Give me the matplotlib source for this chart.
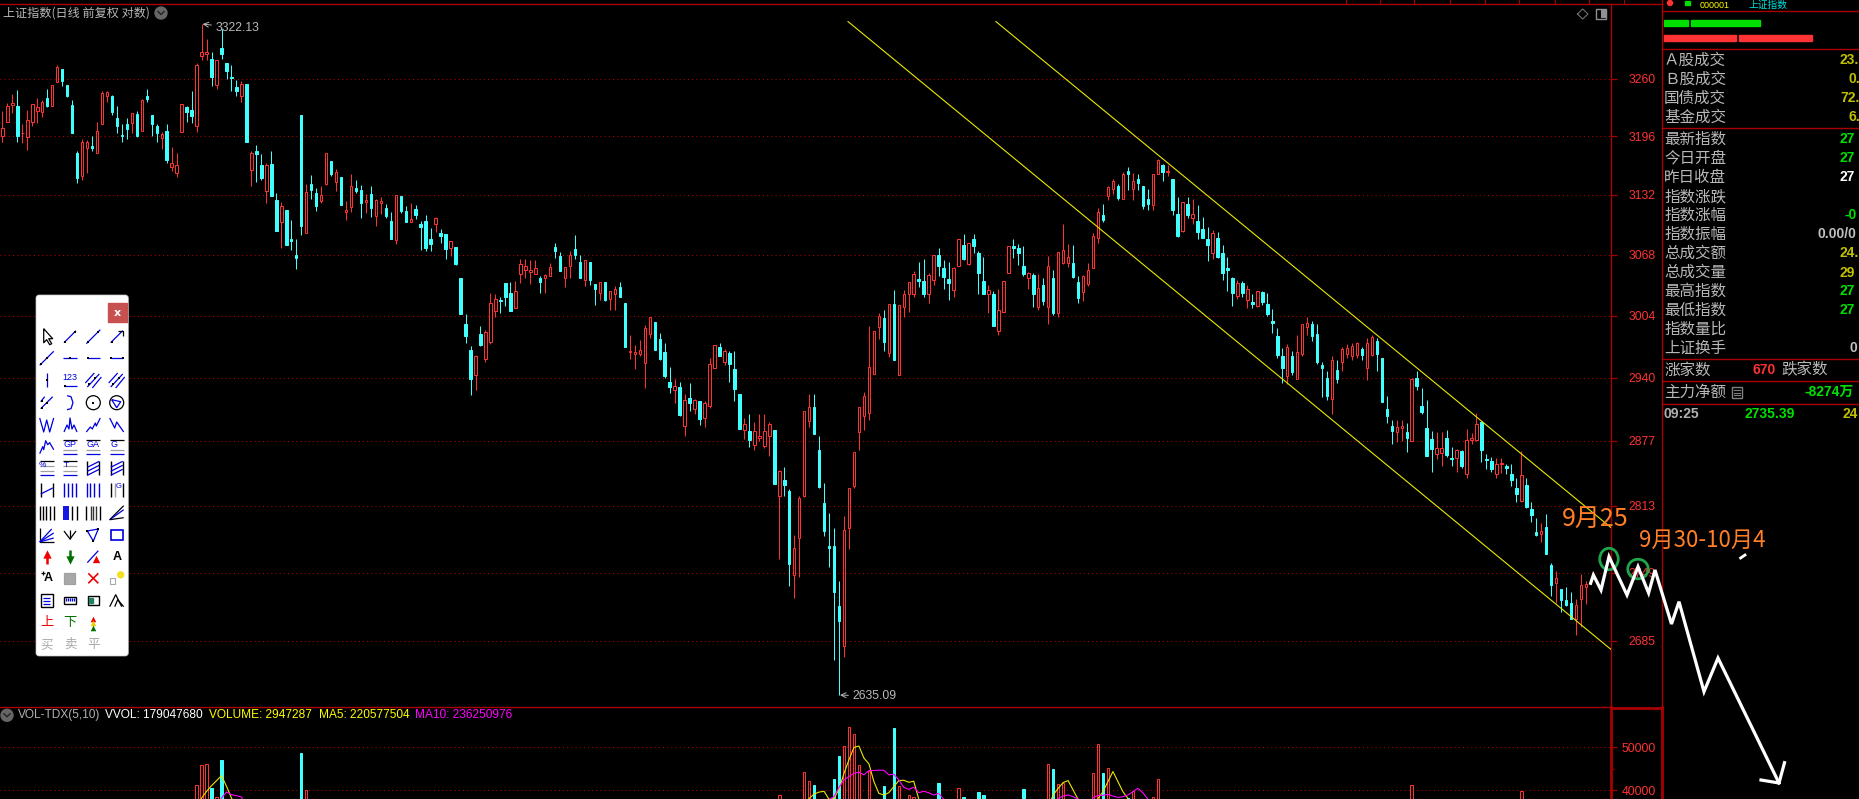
import numpy as np
import matplotlib
matplotlib.use("Agg")
import matplotlib.pyplot as plt
from matplotlib.patches import Ellipse, FancyBboxPatch, Rectangle, Circle

plt.rcParams['font.family'] = ['Noto Sans CJK SC', 'DejaVu Sans']

# colour flags, R rising / C falling
flags = ("RRRCRRRRRC" "RRCCCCRRCR" "RRCCCCRCRC" "CCRCRRRCCR" "RRCRCCCCRC" "RCCRCCRCCC" "CRCCRRCRCR" "RCCRCRRCCR"
         "CCRCCCCRCC" "RCCCCRCRRR" "CCCRRRRRCR" "RCCRRCCRCC" "RCRRCCRRRR" "RCCCCRCRCR" "CRRRCRCCCR" "CRRRRCRCCR"
         "RRRCCCCCCR" "RRRRRRRCRC" "RRRRCCRRCC" "CRRCRCCCRC" "RRRCCCRCRC" "RCRRRCCRRR" "RCRRCRCRCC" "CRRCRCCRCR"
         "CCCRCCCCRC" "RCRCCCCCRC" "RRRCCCCRCR" "RRRCRRCCCC" "RRCRCCCCRR" "CCRCRRRCCC" "RRCCCRCCCR" "CCRCCCRRR")

highs = [3224,3233,3243,3247,3209,3225,3232,3238,3236,3248,
         3253,3275,3271,3253,3236,3180,3193,3192,3196,3212,
         3246,3246,3242,3230,3210,3216,3222,3224,3237,3248,
         3219,3210,3201,3209,3184,3177,3232,3230,3246,3278,
         3322.13,3305,3290,3281,3316,3278,3276,3259,3257,3254,
         3180,3186,3176,3166,3180,3134,3124,3116,3105,3085,
         3219,3144,3153,3139,3142,3177,3169,3160,3151,3125,
         3154,3148,3143,3133,3142,3127,3130,3122,3113,3132,
         3131,3120,3123,3121,3104,3110,3096,3108,3095,3090,
         3082,3076,3043,3006,2973,2963,2993,2989,3028,3027,
         3023,3038,3039,3040,3063,3063,3062,3062,3045,3047,
         3059,3080,3071,3055,3072,3089,3067,3062,3060,3037,
         3039,3039,3030,3035,3039,3017,2984,2974,2979,2994,
         3003,2997,2986,2976,2951,2939,2936,2924,2935,2919,
         2917,2917,2960,2974,2976,2970,2967,2968,2924,2900,
         2904,2896,2904,2904,2896,2888,2848,2851,2829,2785,
         2823,2907,2924,2924,2882,2835,2806,2792,2741,2803,
         2830,2866,2911,2926,2993,2988,3007,3010,3016,3031,
         3015,3031,3039,3051,3060,3063,3049,3068,3075,3062,
         3060,3055,3084,3090,3080,3090,3072,3065,3036,3030,
         3032,3040,3077,3085,3079,3077,3050,3049,3047,3043,
         3066,3052,3071,3101,3079,3078,3045,3046,3059,3091,
         3118,3122,3141,3149,3144,3157,3162,3156,3155,3142,
         3138,3154,3171,3165,3164,3149,3130,3124,3130,3127,
         3121,3108,3097,3094,3092,3078,3065,3044,3041,3040,
         3036,3026,3030,3030,3028,3011,2991,2971,2975,2967,
         2984,2995,3003,2998,2995,2956,2947,2962,2958,2972,
         2975,2976,2977,2972,2981,2984,2981,2960,2922,2898,
         2898,2898,2895,2940,2947,2930,2918,2887,2886,2886,
         2888,2871,2869,2868,2889,2885,2905,2897,2864,2861,
         2860,2860,2854,2854,2840,2867,2840,2817,2801,2796,
         2805,2758,2750,2733,2735,2731,2724,2748,2741]

tops = [3205,3230,3233,3229,3200,3214,3232,3228,3234,3238,
        3253,3273,3271,3253,3231,3177,3190,3190,3185,3202,
        3244,3245,3241,3216,3197,3209,3222,3221,3236,3241,
        3219,3207,3198,3202,3167,3164,3232,3228,3225,3275,
        3290,3290,3282,3281,3295,3278,3262,3251,3254,3254,
        3178,3180,3164,3164,3165,3126,3120,3116,3085,3068,
        3219,3135,3144,3134,3132,3177,3169,3157,3151,3116,
        3142,3139,3137,3126,3133,3126,3125,3118,3104,3132,
        3131,3114,3106,3117,3100,3104,3085,3107,3091,3090,
        3082,3076,3043,2995,2969,2962,2985,2987,3017,3021,
        3020,3038,3028,3030,3058,3056,3052,3054,3043,3046,
        3055,3076,3066,3055,3068,3074,3060,3062,3060,3037,
        3039,3039,3030,3032,3034,3017,2968,2966,2969,2991,
        3003,2997,2980,2966,2936,2932,2931,2918,2920,2918,
        2917,2915,2954,2974,2972,2967,2965,2949,2924,2894,
        2887,2887,2882,2887,2894,2888,2847,2838,2827,2772,
        2821,2907,2911,2911,2868,2816,2774,2774,2717,2790,
        2830,2866,2911,2922,2951,2988,3004,3002,3016,3016,
        3015,3027,3039,3047,3042,3040,3046,3068,3068,3054,
        3042,3054,3084,3078,3080,3084,3070,3040,3031,3026,
        3010,3040,3077,3077,3075,3056,3048,3046,3033,3036,
        3056,3043,3071,3073,3065,3059,3039,3045,3052,3088,
        3113,3110,3140,3147,3141,3154,3158,3147,3149,3141,
        3127,3154,3170,3164,3158,3149,3111,3124,3122,3111,
        3104,3095,3085,3091,3086,3070,3054,3043,3038,3038,
        3032,3018,3030,3029,3016,2998,2983,2962,2972,2962,
        2966,2995,2996,2995,2985,2953,2940,2958,2948,2970,
        2971,2973,2976,2970,2976,2982,2978,2960,2909,2892,
        2891,2892,2886,2939,2940,2912,2890,2879,2870,2870,
        2880,2860,2868,2867,2878,2880,2894,2896,2859,2857,
        2854,2855,2852,2844,2830,2843,2833,2810,2788,2789,
        2793,2756,2744,2733,2723,2720,2718,2737,2738]

bottoms = [3196,3212,3231,3196,3200,3195,3212,3224,3223,3230,
           3230,3256,3257,3241,3199,3150,3152,3183,3183,3178,
           3209,3241,3223,3207,3196,3204,3211,3196,3202,3237,
           3210,3199,3194,3170,3162,3156,3201,3223,3218,3207,
           3286,3288,3262,3253,3288,3269,3261,3246,3241,3190,
           3159,3176,3150,3136,3131,3093,3103,3078,3082,3064,
           3098,3091,3137,3120,3125,3144,3155,3146,3121,3113,
           3119,3136,3123,3124,3118,3109,3123,3109,3084,3083,
           3115,3103,3103,3110,3097,3075,3079,3101,3088,3074,
           3075,3058,3006,2983,2939,2943,2974,2959,2977,3009,
           3019,3023,3009,3012,3047,3052,3050,3047,3039,3043,
           3045,3072,3051,3043,3056,3067,3043,3041,3041,3032,
           3028,3020,3021,3027,3023,2972,2966,2964,2964,2955,
           2985,2969,2959,2942,2931,2928,2903,2892,2915,2909,
           2899,2900,2912,2950,2962,2956,2954,2929,2889,2888,
           2878,2873,2880,2872,2882,2834,2823,2833,2757,2747,
           2782,2823,2897,2884,2831,2789,2772,2731,2703,2680,
           2792,2832,2886,2902,2905,2944,2992,2977,2965,2958,
           2943,3013,3026,3027,3040,3027,3026,3041,3056,3044,
           3038,3031,3056,3063,3058,3077,3048,3026,3026,2993,
           2988,3008,3049,3075,3070,3047,3043,3027,3013,3019,
           3013,3007,3007,3059,3059,3044,3022,3029,3037,3054,
           3086,3105,3131,3138,3128,3127,3154,3138,3145,3120,
           3122,3121,3155,3157,3157,3116,3088,3093,3110,3107,
           3092,3086,3078,3070,3065,3048,3052,3028,3024,3028,
           3020,3016,3014,3018,3006,2996,2963,2950,2942,2946,
           2939,2964,2992,2983,2956,2950,2922,2919,2939,2956,
           2964,2962,2963,2963,2950,2963,2964,2916,2902,2887,
           2886,2890,2880,2877,2932,2906,2862,2869,2864,2865,
           2863,2859,2860,2852,2844,2878,2878,2868,2858,2849,
           2844,2854,2850,2838,2825,2818,2812,2804,2785,2786,
           2767,2737,2739,2723,2718,2705,2705,2724,2735]

lows = [3190,3212,3222,3190,3189,3181,3207,3211,3217,3228,
        3230,3256,3252,3239,3199,3145,3148,3156,3180,3178,
        3209,3234,3219,3199,3190,3193,3200,3195,3202,3234,
        3196,3190,3182,3166,3158,3151,3201,3212,3211,3201,
        3281,3281,3252,3248,3282,3260,3246,3241,3234,3190,
        3141,3146,3148,3123,3131,3093,3075,3078,3073,3053,
        3089,3091,3127,3114,3123,3143,3152,3136,3121,3105,
        3113,3134,3107,3112,3108,3098,3111,3107,3084,3079,
        3112,3103,3103,3106,3073,3072,3072,3092,3080,3063,
        3066,3057,3006,2976,2923,2928,2973,2956,2975,3003,
        3007,3014,3009,3012,3038,3043,3037,3047,3028,3028,
        3045,3064,3051,3034,3043,3063,3043,3035,3036,3015,
        3020,3019,3010,3010,3023,2972,2959,2949,2962,2930,
        2981,2969,2958,2940,2925,2915,2902,2882,2907,2904,
        2893,2891,2910,2950,2962,2953,2936,2917,2889,2879,
        2871,2868,2877,2870,2862,2834,2762,2823,2736,2725,
        2745,2822,2891,2884,2830,2784,2754,2667,2635.09,2670,
        2771,2830,2868,2888,2898,2944,2980,2967,2961,2958,
        2943,3003,3008,3023,3034,3023,3017,3036,3045,3032,
        3020,3023,3056,3062,3057,3070,3027,3026,3007,2993,
        2984,3008,3049,3064,3057,3045,3032,3013,3010,3015,
        2995,3005,3003,3058,3055,3043,3017,3019,3035,3054,
        3080,3103,3126,3133,3126,3127,3137,3126,3137,3117,
        3116,3116,3155,3147,3152,3110,3087,3092,3107,3101,
        3085,3086,3061,3063,3064,3041,3030,3014,3021,3023,
        3012,3012,3013,3015,3004,2986,2960,2935,2934,2943,
        2939,2962,2984,2978,2954,2921,2918,2904,2935,2947,
        2960,2958,2960,2958,2938,2962,2947,2916,2895,2874,
        2876,2877,2866,2877,2928,2904,2862,2846,2859,2852,
        2861,2852,2846,2850,2840,2874,2877,2856,2849,2846,
        2840,2845,2844,2832,2817,2817,2811,2797,2784,2778,
        2767,2727,2720,2712,2717,2705,2690,2698,2719]

price_ticks = [3260, 3196, 3132, 3068, 3004, 2940, 2877, 2813, 2749, 2685]
vol_ticks = [50000, 40000]

# only the volume bars tall enough to show above the crop
vol_idx = [39,40,41,42,43,44,60,61,156,161,162,163,167,168,169,170,171,172,174,177,179,180,182,183,188,
           192,193,196,197,205,210,211,212,213,219,220,221,222,226,227,231,232,283,305]
vol_val = [41300,45850,46150,40540,38460,47080,48600,40150,39000,44190,42100,41240,42640,47980,50300,54650,
           53020,45800,44500,41000,54500,41000,38900,38400,41630,40620,38450,39540,38840,40240,46050,44900,
           41500,41800,43950,50700,43950,45100,38300,39850,38400,42560,41160,39770]

ma5_idx = [39,40,41,42,43,44,45,46,47,
           161,162,163,164,165,166,167,168,169,170,171,172,173,174,175,176,177,178,179,180,181,182,183,184,185,
           210,211,212,213,214,215,216,217,
           219,220,221,222,223,224,225,226,227]
ma5_val = [36000,38230,39770,41080,42230,43390,40930,38230,36000,
           36000,38140,39150,39600,39770,37900,38140,40230,43950,47050,49920,50230,47440,46120,42020,39300,38920,
           39460,40850,42250,42330,41860,42100,37990,36000,
           36000,38920,40470,41790,42250,40080,37900,36000,
           36000,38140,39690,42020,44340,42020,39690,38140,36000]
ma10_idx = [43,44,45,46,47,48,49,
            165,166,167,168,169,170,171,172,173,174,175,176,177,178,179,180,181,182,183,184,185,186,187,188,189,190,
            211,212,213,214,215,216,217,
            218,219,220,221,222,223,224,225,226,227,228,229,230,231]
ma10_val = [36000,38235,39620,39000,38770,38470,36000,
            36000,37900,38530,40700,42400,43180,43950,44190,43570,44570,44570,44650,44650,43570,43720,42400,40700,
            40230,40700,39460,39770,39460,38920,39300,37990,36000,
            36000,38140,38680,38920,38530,37990,36000,
            36000,38300,38840,38840,39070,38680,38370,38530,38920,39690,40470,39460,37990,36000]

# channel lines, (candle index, price)
lower_channel = ([169.8, 323.0], [3325, 2677])
upper_channel = ([199.5, 323.0], [3325, 2792])

# hand drawn forecast line, screen pixels
white_x = [1590.6,1593.4,1601,1609,1627,1638,1648.6,1655,1671.5,1679,1704,1718,1779]
white_y = [583.3,575,590,556.7,595,566.7,593,570,624,601.7,691.7,658,783]
arrow_x = [1761,1779,1784.5]
arrow_y = [780,783,762.7]

panel_labels = ["Ａ股成交","Ｂ股成交","国债成交","基金成交","最新指数","今日开盘","昨日收盘","指数涨跌","指数涨幅",
                "指数振幅","总成交额","总成交量","最高指数","最低指数","指数量比","上证换手"]
panel_y = [60.3,79,98.3,117.3,139.3,158.3,177.3,196.7,215.3,234.3,253.3,272.7,291,310,329.3,348.3]
panel_vals = ["23.","0.","72.","6.","27","27","27","","-0","0.00/0","24.","29","27","27","","0"]
panel_val_x = [1840,1849,1840,1849,1840,1840,1840,1840,1845,1818,1840,1840,1840,1840,1840,1850]
panel_val_col = ['#c0c000','#c0c000','#c0c000','#c0c000','#00e000','#00e000','#ffffff','#c0c0c0','#00e000',
                 '#c0c0c0','#c0c000','#c0c000','#00e000','#00e000','#c0c0c0','#c0c0c0']

DARK = '#a80000'
RED = '#ff3232'
CYAN = '#40ffff'
GRID = dict(color='#b00000', lw=0.75, ls=(0, (1, 3)))

W, H = 1859, 799
STEP = 4.98
fig = plt.figure(figsize=(18.59, 7.99), dpi=100, facecolor='black')

# price panel
ax = fig.add_axes([0, (H - 707.3) / H, 1611 / W, (707.3 - 3.5) / H], facecolor='black')
# volume panel
vx = fig.add_axes([0, 0, 1611 / W, (H - 707.3) / H], facecolor='black')
ov = fig.add_axes([0, 0, 1, 1], zorder=10)
ov.set_xlim(0, W)
ov.set_ylim(H, 0)
ov.axis('off')

x = np.arange(len(highs))
up = np.array([f == 'R' for f in flags])
highs = np.array(highs, dtype=float)
lows = np.array(lows, dtype=float)
tops = np.array(tops, dtype=float)
bottoms = np.array(bottoms, dtype=float)

ax.set_yscale('log')
ax.set_ylim(2624, 3345.8)
ax.set_xlim(-2.4 / STEP, (1611 - 2.4) / STEP)
for y in price_ticks:
    ax.axhline(y, zorder=1, **GRID)
ax.vlines(x[up], lows[up], highs[up], color=RED, lw=0.72, zorder=2)
ax.vlines(x[~up], lows[~up], highs[~up], color=CYAN, lw=0.72, zorder=2)
ax.bar(x[up], tops[up] - bottoms[up], bottom=bottoms[up], width=0.5, facecolor='black', edgecolor=RED, lw=0.72, zorder=3)
ax.bar(x[~up], tops[~up] - bottoms[~up], bottom=bottoms[~up], width=0.5, facecolor=CYAN, edgecolor=CYAN, lw=0.72, zorder=3)
ax.plot(*lower_channel, color='#e8e800', lw=0.8, zorder=4)
ax.plot(*upper_channel, color='#e8e800', lw=0.8, zorder=4)

ax.minorticks_off()
ax.set_yticks(price_ticks, [str(t) for t in price_ticks])
ax.tick_params(axis='y', which='minor', length=0, labelright=False, labelleft=False)
ax.yaxis.tick_right()
ax.tick_params(axis='y', colors=DARK, length=4.3, width=0.9, pad=8.5, labelcolor=RED, labelsize=8.8)
for lb in ax.get_yticklabels():
    lb.set_family('Liberation Sans')
ax.set_xticks([])
for s in ['top', 'left', 'bottom']:
    ax.spines[s].set_visible(False)
ax.spines['right'].set_color(DARK)
ax.spines['right'].set_linewidth(1.0)

# high and low notes
ax.annotate("3322.13", xy=(40.2, 3322.13), xytext=(215.5, 771), textcoords='figure pixels', color='#b8b8b8',
            fontsize=8.8, family='Liberation Sans', va='center', arrowprops=dict(arrowstyle='->', color='#b8b8b8', lw=0.7, shrinkA=1, shrinkB=0))
ax.annotate("2635.09", xy=(168.2, 2635.09), xytext=(852.5, 103), textcoords='figure pixels', color='#b8b8b8',
            fontsize=8.8, family='Liberation Sans', va='center', arrowprops=dict(arrowstyle='->', color='#b8b8b8', lw=0.7, shrinkA=1, shrinkB=0))

# volume
vol_idx = np.array(vol_idx)
vol_val = np.array(vol_val)
vup = up[vol_idx]
vx.set_xlim(ax.get_xlim())
vx.set_ylim(38000, 59170)
for y in vol_ticks:
    vx.axhline(y, zorder=1, **GRID)
vx.bar(vol_idx[vup], vol_val[vup], width=0.5, facecolor='black', edgecolor=RED, lw=0.72, zorder=3)
vx.bar(vol_idx[~vup], vol_val[~vup], width=0.5, facecolor=CYAN, edgecolor=CYAN, lw=0.72, zorder=3)
vx.plot(ma5_idx, ma5_val, color='#e8e800', lw=0.8, zorder=4)
vx.plot(ma10_idx, ma10_val, color='#ff00ff', lw=0.8, zorder=4)
vx.set_yticks(vol_ticks, [str(t) for t in vol_ticks])
vx.set_yticks([45000], minor=True)
vx.yaxis.tick_right()
vx.tick_params(axis='y', colors=DARK, length=4.3, width=0.9, pad=3.6, labelcolor=RED, labelsize=8.8)
vx.tick_params(axis='y', which='minor', colors=DARK, length=2.5, width=0.9)
for lb in vx.get_yticklabels():
    lb.set_family('Liberation Sans')
vx.set_xticks([])
for s in ['top', 'left', 'bottom']:
    vx.spines[s].set_visible(False)
vx.spines['right'].set_color(DARK)
vx.spines['right'].set_linewidth(2.0)

# frame lines
ov.plot([0, 1662], [3.5, 3.5], color=DARK, lw=1.0)
ov.plot([0, 1611], [707.3, 707.3], color=DARK, lw=1.0)
ov.plot([1611, 1662], [708, 708], color=DARK, lw=2.0)
ov.plot([1662, 1662], [0, 707], color=DARK, lw=1.0)
ov.plot([1662, 1662], [707, H], color=DARK, lw=2.0)
for yy in [11.3, 49.3, 128, 359.3, 381, 404.3]:
    ov.plot([1662, W], [yy, yy], color=DARK, lw=1.0)
for xx in [1345.8, 1379.8, 1414.5, 1449.6, 1484.8, 1519.5, 1554.6, 1589.4, 1624]:
    ov.plot([xx, xx], [0, 3.5], color=DARK, lw=0.8)

# titles
ov.text(3, 13, "上证指数(日线 前复权 对数)", color='#b8b8b8', fontsize=8.7, va='center')
for cx, cy in [(161, 13), (7, 715.3)]:
    ov.add_patch(Circle((cx, cy), 6, color='#666666'))
    ov.plot([cx - 3, cx, cx + 3], [cy - 1.5, cy + 1.5, cy - 1.5], color='#222222', lw=1)
LEG = dict(fontsize=8.6, family='Liberation Sans', va='center')
ov.text(18, 715.3, "VOL-TDX(5,10)", color='#b0b0b0', **LEG)
ov.text(105, 715.3, "VVOL: 179047680", color='#ffffff', **LEG)
ov.text(209, 715.3, "VOLUME: 2947287", color='#ffff00', **LEG)
ov.text(319, 715.3, "MA5: 220577504", color='#ffff00', **LEG)
ov.text(415.5, 715.3, "MA10: 236250976", color='#ff00ff', **LEG)

# chart corner icons
ov.plot([1577.5, 1582.7, 1588, 1582.7, 1577.5], [14, 9, 14, 19, 14], color='#707070', lw=0.8)
ov.add_patch(Rectangle((1596, 8.5), 10, 10, facecolor='black', edgecolor='#909090', lw=1))
ov.add_patch(Rectangle((1601, 9), 5, 9, facecolor='#909090', edgecolor='none'))

# side panel
ov.add_patch(Circle((1670, 3), 2.5, color='#ff3232'))
ov.add_patch(Rectangle((1685, 1), 5, 4, color='#00e000'))
ov.text(1700, 5.5, "000001", color='#ffff00', fontsize=6.5, family='Liberation Sans', va='center')
ov.text(1749, 5, "上证指数", color='#00e0e0', fontsize=7, va='center')
ov.add_patch(Rectangle((1664, 20), 24.3, 6, color='#00e000'))
ov.add_patch(Rectangle((1691, 20), 69.3, 6, color='#00e000'))
ov.add_patch(Rectangle((1664, 35), 72.3, 6, color='#ff3333'))
ov.add_patch(Rectangle((1739.3, 35), 73, 6, color='#ff3333'))
NUM = dict(fontsize=10, family=['Liberation Sans', 'Noto Sans CJK SC'], weight='bold', va='center')
for lab, yy, val, vxp, col in zip(panel_labels, panel_y, panel_vals, panel_val_x, panel_val_col):
    ov.text(1664, yy, lab, color='#b8b8b8', fontsize=11.2, va='center')
    ov.text(vxp, yy, val, color=col, **NUM)
ov.text(1664, 370, "涨家数", color='#b8b8b8', fontsize=11.2, va='center')
ov.text(1753, 370, "670", color=RED, **NUM)
ov.text(1781, 370, "跌家数", color='#b8b8b8', fontsize=11.2, va='center')
ov.text(1664, 392, "主力净额", color='#b8b8b8', fontsize=11.2, va='center')
ov.add_patch(Rectangle((1732, 387), 10, 11, facecolor='none', edgecolor='#808080', lw=1))
for yy in [390, 392.5, 395]:
    ov.plot([1734, 1740], [yy, yy], color='#808080', lw=0.8)
ov.text(1804.5, 392, "-8274万", color='#00e000', **NUM)
ov.text(1664, 414.3, "09:25", color='#b0b0b0', **NUM)
ov.text(1744.5, 414.3, "2735.39", color='#00e000', **NUM)
ov.text(1843, 414.3, "24", color='#c0c000', **NUM)

# forecast drawing
ov.plot(white_x, white_y, color='white', lw=2.3, solid_joinstyle='miter')
ov.plot(arrow_x, arrow_y, color='white', lw=2.3)
ov.plot([1740.6, 1745], [558, 555], color='white', lw=2.0)
ov.add_patch(Ellipse((1609, 559), 18.5, 21.5, fill=False, edgecolor='#1fa64a', lw=2))
ov.add_patch(Ellipse((1638, 569), 20.5, 19.5, fill=False, edgecolor='#1fa64a', lw=2))
ov.text(1562, 519, "9月25", color='#ff7f27', fontsize=18, va='center')
ov.text(1639.5, 540, "9月30-10月4", color='#ff7f27', fontsize=16, va='center')

# drawing toolbar
col_x = [46.7, 70, 93.3, 116.7]
row_y = [336.7, 358.3, 380, 402.7, 425, 446.7, 468.3, 490, 512.7, 535, 556.7, 578.3, 600.7, 622.7, 645]
BLUE = '#0000e0'

ov.add_patch(FancyBboxPatch((38, 297), 88.3, 357, boxstyle='round,pad=2,rounding_size=3', facecolor='white', edgecolor='#c8c8c8', lw=0.5))
ov.add_patch(Rectangle((108.3, 303.3), 19, 18.7, color='#c75050'))
ov.text(117.8, 312.5, "x", color='white', fontsize=8, weight='bold', ha='center', va='center', family='DejaVu Sans')


def ic(c, r, pts, color=BLUE, lw=0.9):
    px = [col_x[c] + p[0] for p in pts]
    py = [row_y[r] + p[1] for p in pts]
    ov.plot(px, py, color=color, lw=lw, solid_capstyle='butt')


def dots(c, r, pts):
    ov.scatter([col_x[c] + p[0] for p in pts], [row_y[r] + p[1] for p in pts], s=4, color='black', marker='s', linewidths=0, zorder=12)


def txt(c, r, s, color=BLUE, size=6.5, dx=0.0, dy=0.0, weight='normal'):
    ov.text(col_x[c] + dx, row_y[r] + dy, s, color=color, fontsize=size, ha='center', va='center', weight=weight, family=['Liberation Sans', 'Noto Sans CJK SC'])


def bars(c, r, offs, color='black', lw=1.0, h=7):
    for o in offs:
        ic(c, r, [(o, -h), (o, h)], color, lw)


ic(0, 0, [(-3, -8), (-3, 6), (0, 3), (3, 8), (5, 7), (2, 2), (6, 2), (-3, -8)], 'black')
ic(1, 0, [(-6, 6), (6, -6)]); dots(1, 0, [(-5, 5), (5, -5)])
ic(2, 0, [(-7, 7), (7, -7)]); dots(2, 0, [(-5, 5), (5, -5)])
ic(3, 0, [(-6, 6), (6, -6)]); ic(3, 0, [(1, -6), (6, -6), (6, -1)], 'black'); dots(3, 0, [(-5, 5)])
ic(0, 1, [(-7, 7), (7, -7)]); dots(0, 1, [(-6, 6), (0, 0)])
ic(1, 1, [(-7, 0), (7, 0)]); dots(1, 1, [(0, 0)])
ic(2, 1, [(-6, 0), (7, 0)]); dots(2, 1, [(-5, 0)])
ic(3, 1, [(-6, 0), (6, 0)]); dots(3, 1, [(-6, 0), (6, 0)])
ic(0, 2, [(0, -7), (0, 7)]); dots(0, 2, [(0, 0)])
txt(1, 2, "123", size=6.5, dy=-2); ic(1, 2, [(-6, 6), (7, 6)]); dots(1, 2, [(-5, 6)])
for c in (2, 3):
    ic(c, 2, [(-8, 3), (1, -7)]); ic(c, 2, [(-6, 7), (6, -6)]); ic(c, 2, [(-1, 8), (8, -3)]); dots(c, 2, [(-4, 4), (2, -2)])
ic(0, 3, [(-6, 6), (6, -6)]); ic(0, 3, [(-6, -1), (-2, -6)]); dots(0, 3, [(-5, 5), (0, 0), (-5, -2)])
ic(1, 3, [(-3, -7), (1, -6), (3, 0), (1, 6), (-3, 7)])
ov.add_patch(Ellipse((col_x[2], row_y[3]), 14, 14, fill=False, edgecolor='black', lw=0.9)); dots(2, 3, [(0, 0)])
ov.add_patch(Ellipse((col_x[3], row_y[3]), 14, 14, fill=False, edgecolor='black', lw=0.9)); ic(3, 3, [(-5, -3), (4, -1), (0, 5), (-5, -3)])
ic(0, 4, [(-7, -7), (-3, 7), (0, -5), (3, 7), (7, -7)])
ic(1, 4, [(-6, 7), (-3, 0), (-1, 4), (0, -7), (2, 4), (4, 0), (7, 7)])
ic(2, 4, [(-7, 7), (-3, 2), (-1, 4), (2, -2), (3, 1), (7, -7)])
ic(3, 4, [(-7, -7), (-2, 3), (0, -3), (7, 7)])
ic(0, 5, [(-7, 7), (-4, 0), (-3, 3), (-1, -6), (1, -2), (3, -4), (7, 3)])
for c, s in zip((1, 2, 3), ("GP", "GA", "G")):
    ic(c, 5, [(-7, -7), (7, -7)], 'black'); ic(c, 5, [(-7, 3), (7, 3)], '#a0a0a0'); ic(c, 5, [(-7, 7), (7, 7)])
    txt(c, 5, s, size=6.5, dy=-2, dx=-3 if s == "G" else 0)
for c, s in zip((0, 1), ("%", "T")):
    for yy, cl in ((-7, 'black'), (-2, '#a0a0a0'), (3, '#a0a0a0'), (7, BLUE)):
        ic(c, 6, [(-7, yy), (7, yy)], cl)
    txt(c, 6, s, size=6, dx=-4, dy=-3)
for c in (2, 3):
    bars(c, 6, [-6, 6])
    for d in (-4, 0, 4):
        ic(c, 6, [(-6, 3 + d), (6, -3 + d)])
bars(0, 7, [-6, 6]); ic(0, 7, [(-6, 4), (6, -2)])
bars(1, 7, [-6, -2, 2, 6], BLUE)
bars(2, 7, [-6, -3, 1, 6], BLUE)
bars(3, 7, [-6, 6]); bars(3, 7, [-2], '#a0a0a0'); txt(3, 7, "G", size=5.5, dx=2, dy=-3)
bars(0, 8, [-7, -4, -1, 3, 7])
bars(1, 8, [-6, -4, -2], BLUE, lw=1.3); bars(1, 8, [2, 7])
bars(2, 8, [-7, 7]); bars(2, 8, [-2, 0, 3], '#333333')
ic(3, 8, [(-7, 7), (7, -7)], 'black'); ic(3, 8, [(-7, 7), (7, -3)]); ic(3, 8, [(-7, 7), (7, 5)], 'black')
ic(0, 9, [(-7, -7), (-7, 7), (7, 7)], 'black'); ic(0, 9, [(-7, 7), (5, -6)]); ic(0, 9, [(-7, 7), (7, -2)]); ic(0, 9, [(-7, 7), (7, 3)])
ic(1, 9, [(-6, -4), (0, 4), (6, -4)], 'black'); ic(1, 9, [(0, -5), (0, 4)], 'black')
ic(2, 9, [(-6, -4), (5, -6), (0, 6), (-6, -4)]); dots(2, 9, [(5, -6), (0, 6), (-6, -4)])
ov.add_patch(Rectangle((col_x[3] - 6, row_y[9] - 5), 12, 10, fill=False, edgecolor=BLUE, lw=1.2))
ic(0, 10, [(0, 7), (0, -2)], '#f00000', 1.8); ov.scatter(col_x[0], row_y[10] - 3, s=36, marker='^', color='#f00000', linewidths=0, zorder=12)
ic(1, 10, [(0, -7), (0, 2)], '#007000', 1.8); ov.scatter(col_x[1], row_y[10] + 3, s=36, marker='v', color='#007000', linewidths=0, zorder=12)
ic(2, 10, [(-6, 6), (5, -6)], BLUE); ov.scatter(col_x[2] + 3, row_y[10] + 2, s=28, marker='^', color='#f00000', linewidths=0, zorder=12)
txt(3, 10, "A", color='black', size=9, weight='bold')
txt(0, 11, "A", color='black', size=9, weight='bold', dx=1); ic(0, 11, [(-6, -5), (-2, -5)], 'black'); ic(0, 11, [(-4, -7), (-4, -3)], 'black')
ov.add_patch(Rectangle((col_x[1] - 5.5, row_y[11] - 5.5), 11, 11, facecolor='#a8a8a8', edgecolor='#a0a0a0', lw=0.9))
ic(2, 11, [(-5, -5), (5, 5)], '#f00000', 1.2); ic(2, 11, [(5, -5), (-5, 5)], '#f00000', 1.2)
ov.add_patch(Rectangle((col_x[3] - 7, row_y[11]), 5, 6, fill=False, edgecolor='#a8a8a8', lw=0.8))
ov.add_patch(Circle((col_x[3] + 4, row_y[11] - 3.5), 3, color='#f0e020'))
ov.add_patch(Rectangle((col_x[0] - 6, row_y[12] - 6.5), 12, 13, fill=False, edgecolor='black', lw=1))
for yy in (-3, 0, 3):
    ic(0, 12, [(-3.5, yy), (3.5, yy)])
ov.add_patch(Rectangle((col_x[1] - 6, row_y[12] - 3.5), 12, 7, fill=False, edgecolor='black', lw=1))
for d in (-4, -2, 0, 2, 4):
    ic(1, 12, [(d, -3), (d, 0)])
ov.add_patch(Rectangle((col_x[2] - 5.5, row_y[12] - 4.5), 11, 9, fill=False, edgecolor='black', lw=1))
ov.add_patch(Rectangle((col_x[2] - 4, row_y[12] - 2.5), 4, 5, color='#208060'))
ic(3, 12, [(-7, 6), (-1, -6), (5, 6)], 'black'); ic(3, 12, [(-2, 6), (1, -1), (7, 6)], 'black')
txt(0, 13, "上", color='#f00000', size=9.5)
txt(1, 13, "下", color='#007000', size=9.5)
ov.scatter(col_x[2], row_y[13] - 4, s=16, marker='^', color='#f00000', linewidths=0, zorder=12)
ov.scatter(col_x[2], row_y[13], s=16, marker='^', color='#e8d000', linewidths=0, zorder=12)
ov.scatter(col_x[2], row_y[13] + 5, s=16, marker='^', color='#007000', linewidths=0, zorder=12)
txt(0, 14, "买", color='#a8a8a8', size=9)
txt(1, 14, "卖", color='#a8a8a8', size=9)
txt(2, 14, "平", color='#a8a8a8', size=9)

fig.savefig("out.png", dpi=100, facecolor='black')
